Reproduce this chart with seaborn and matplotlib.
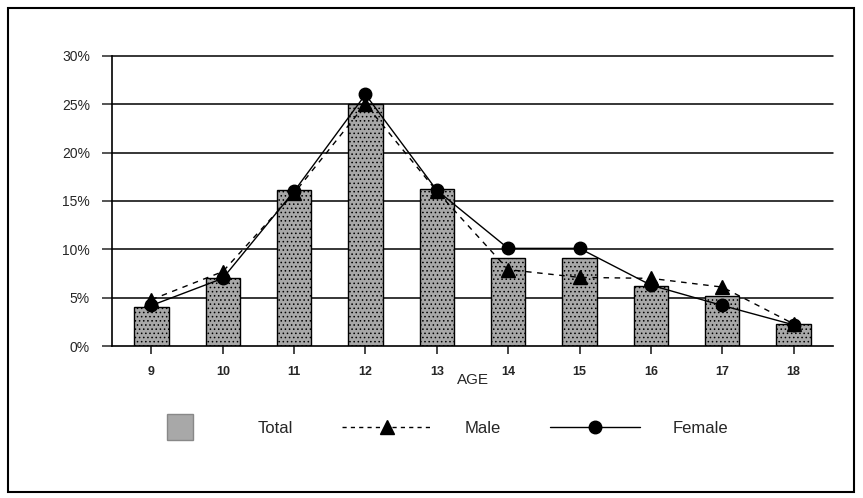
import pandas as pd
import seaborn as sns
import matplotlib
import matplotlib.pyplot as plt
from matplotlib.lines import Line2D
from matplotlib.patches import Rectangle

matplotlib.use("Agg")

ages = ["9", "10", "11", "12", "13", "14", "15", "16", "17", "18"]
total = [4.0, 7.0, 16.1, 25.0, 16.2, 9.1, 9.1, 6.2, 5.2, 2.3]
male = [4.8, 7.7, 15.8, 25.0, 16.0, 7.9, 7.1, 7.0, 6.1, 2.3]
female = [4.2, 7.0, 16.0, 26.0, 16.1, 10.1, 10.1, 6.3, 4.2, 2.2]

df = pd.DataFrame({"age": ages, "Total": total, "Male": male, "Female": female})

sns.set_style("white")
plt.rcParams["font.family"] = ["Liberation Sans", "DejaVu Sans"]
plt.rcParams["hatch.color"] = "#555555"
plt.rcParams["hatch.linewidth"] = 0.6

fig = plt.figure(figsize=(8.63, 4.98), dpi=100)
ax = fig.add_axes([0.13, 0.305, 0.835, 0.583])

# horizontal grid first so bars sit on top
for v in [5, 10, 15, 20, 25, 30]:
    ax.axhline(v, color="black", lw=1.1, zorder=0, clip_on=False)

sns.barplot(data=df, x="age", y="Total", order=ages, color="#a8a8a8",
            edgecolor="black", linewidth=1.0, width=0.48, ax=ax,
            hatch="....", zorder=2)
ax.plot(range(len(ages)), df["Male"], color="black", lw=1.0, ls=(0, (4, 4)),
        marker="^", markersize=10, zorder=3)
ax.plot(range(len(ages)), df["Female"], color="black", lw=1.0, ls="-",
        marker="o", markersize=9, zorder=4)

ax.set_ylim(0, 30)
ax.set_xlim(-0.55, 9.55)
ax.set_yticks([0, 5, 10, 15, 20, 25, 30])
ax.set_yticklabels([f"{v}%" for v in [0, 5, 10, 15, 20, 25, 30]], fontsize=10)
ax.set_xticks(range(len(ages)))
ax.set_xticklabels(ages, fontsize=9, fontweight="bold")
ax.tick_params(axis="x", length=6, width=1.2, direction="out", pad=8, bottom=True)
ax.tick_params(axis="y", length=7, width=1.1, direction="out", pad=9, left=True)
ax.set_xlabel("AGE", fontsize=11, labelpad=-3)
ax.set_ylabel("")
for s in ["top", "right"]:
    ax.spines[s].set_visible(False)
for s in ["left", "bottom"]:
    ax.spines[s].set_color("black")
    ax.spines[s].set_linewidth(1.2)

handles = [
    Line2D([], [], ls="none", marker="s", markersize=19, markerfacecolor="#a8a8a8",
           markeredgecolor="#888888", label="Total"),
    Line2D([], [], color="black", lw=1.0, ls=(0, (3, 3)), marker="^",
           markersize=10, label="Male"),
    Line2D([], [], color="black", lw=1.0, marker="o", markersize=9, label="Female"),
]
fig.legend(handles=handles, loc="center", bbox_to_anchor=(0.5, 0.14), ncol=3,
           frameon=False, fontsize=12, handlelength=5.4, handletextpad=2.0,
           columnspacing=2.9)

fig.patches.append(Rectangle((0.009, 0.012), 0.981, 0.972, transform=fig.transFigure,
                             fill=False, edgecolor="black", lw=1.5))

fig.savefig("out.png", dpi=100)
